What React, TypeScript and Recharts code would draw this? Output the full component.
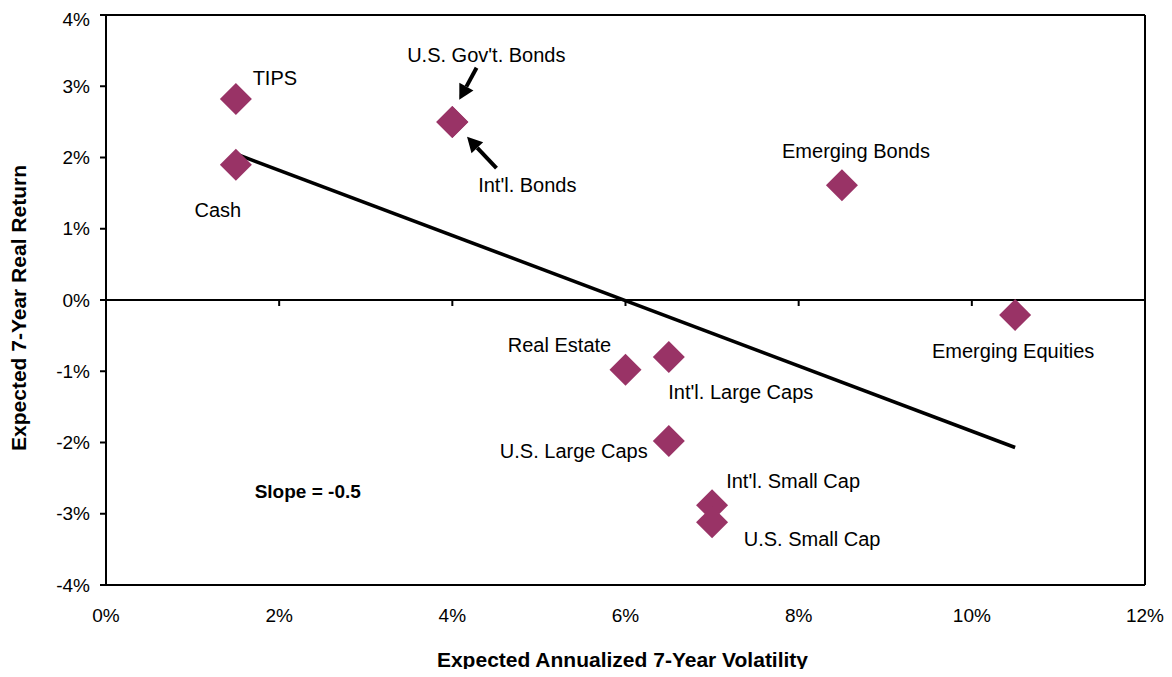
import { ScatterChart, Scatter, XAxis, YAxis, ReferenceLine, ReferenceDot, Label } from 'recharts';

// asset classes, expected volatility (%) and expected real return (%)
const assets = ['TIPS', 'Cash', "U.S. Gov't. Bonds", "Int'l. Bonds", 'Emerging Bonds', 'Emerging Equities', 'Real Estate', "Int'l. Large Caps", 'U.S. Large Caps', "Int'l. Small Cap", 'U.S. Small Cap'];
const volatility = [1.5, 1.5, 4.0, 4.0, 8.5, 10.5, 6.0, 6.5, 6.5, 7.0, 7.0];
const realReturn = [2.82, 1.9, 2.5, 2.5, 1.61, -0.21, -0.98, -0.8, -1.98, -2.88, -3.12];

// fitted line
const trendVol = [1.5, 10.5];
const trendReturn = [2.05, -2.07];

const xTicks = [0, 2, 4, 6, 8, 10, 12];
const yTicks = [-4, -3, -2, -1, 0, 1, 2, 3, 4];

// label offsets from the marker (px)
const labelOffset: Record<string, [number, number]> = {
  'TIPS': [39, -21],
  'Cash': [-18, 45],
  "U.S. Gov't. Bonds": [34, -67],
  "Int'l. Bonds": [75, 63],
  'Emerging Bonds': [14, -34],
  'Emerging Equities': [-2, 36],
  'Real Estate': [-66, -25],
  "Int'l. Large Caps": [72, 35],
  'U.S. Large Caps': [-95, 10],
  "Int'l. Small Cap": [81, -24],
  'U.S. Small Cap': [100, 17],
};

const data = assets.map((name, i) => ({ name, x: volatility[i], y: realReturn[i] }));
const trend = trendVol.map((x, i) => ({ x, y: trendReturn[i] }));

const font = 'Liberation Sans, Arial, sans-serif';

const Diamond = (props: any) => {
  const { cx, cy, payload } = props;
  const s = 16;
  const [dx, dy] = labelOffset[payload.name] || [0, 0];
  return (
    <g>
      <polygon points={`${cx},${cy - s} ${cx + s},${cy} ${cx},${cy + s} ${cx - s},${cy}`} fill="#993366" />
      <text x={cx + dx} y={cy + dy} textAnchor="middle" dominantBaseline="central" fontSize={20} fontFamily={font} fill="#000">
        {payload.name}
      </text>
    </g>
  );
};

const Arrow = (props: any) => {
  const { x1, y1, x2, y2 } = props;
  const ang = Math.atan2(y2 - y1, x2 - x1);
  const len = 15, half = 8;
  const bx = x2 - len * Math.cos(ang), by = y2 - len * Math.sin(ang);
  const px = -Math.sin(ang) * half, py = Math.cos(ang) * half;
  return (
    <g>
      <line x1={x1} y1={y1} x2={bx} y2={by} stroke="#000" strokeWidth={4} />
      <polygon points={`${x2},${y2} ${bx + px},${by + py} ${bx - px},${by - py}`} fill="#000" />
    </g>
  );
};

const TickMark = (props: any) => (
  <line x1={props.cx} y1={props.cy} x2={props.cx} y2={props.cy + 6} stroke="#000" strokeWidth={2} />
);

function App() {
  return (
    <ScatterChart width={1156} height={661} margin={{ top: 7, right: 19, left: 0, bottom: 4 }}>
      <XAxis
        type="number"
        dataKey="x"
        domain={[0, 12]}
        ticks={xTicks}
        tickFormatter={(v: number) => `${v}%`}
        axisLine={{ stroke: '#000', strokeWidth: 2 }}
        tickLine={false}
        tickSize={0}
        tickMargin={24}
        height={80}
        tick={{ fill: '#000', fontSize: 19, fontFamily: font }}
      >
        <Label content={(p: any) => {
          const vb = p.viewBox;
          return (
            <text x={vb.x + vb.width / 2 - 3} y={vb.y + 74} textAnchor="middle" dominantBaseline="central"
              fontSize={21} fontWeight="bold" fontFamily={font} fill="#000">
              Expected Annualized 7-Year Volatility
            </text>
          );
        }} />
      </XAxis>
      <YAxis
        type="number"
        dataKey="y"
        domain={[-4, 4]}
        ticks={yTicks}
        tickFormatter={(v: number) => `${v}%`}
        axisLine={{ stroke: '#000', strokeWidth: 2 }}
        tickLine={{ stroke: '#000', strokeWidth: 2 }}
        tickSize={6}
        tickMargin={10}
        width={98}
        tick={{ fill: '#000', fontSize: 19, fontFamily: font }}
      >
        <Label content={(p: any) => {
          const vb = p.viewBox;
          const x = vb.x + 10, y = vb.y + vb.height / 2 + 8;
          return (
            <text x={x} y={y} transform={`rotate(-90 ${x} ${y})`} textAnchor="middle" dominantBaseline="central"
              fontSize={21} fontWeight="bold" fontFamily={font} fill="#000">
              Expected 7-Year Real Return
            </text>
          );
        }} />
      </YAxis>
      <ReferenceLine y={4} stroke="#000" strokeWidth={2} />
      <ReferenceLine x={12} stroke="#000" strokeWidth={2} />
      <ReferenceLine y={0} stroke="#000" strokeWidth={2} />
      {xTicks.slice(1, -1).map((t) => (
        <ReferenceDot key={t} x={t} y={0} r={0} shape={TickMark} />
      ))}
      <Scatter data={trend} line={{ stroke: '#000', strokeWidth: 3.5 }} shape={() => <g />} isAnimationActive={false} />
      <Scatter data={data} shape={Diamond} isAnimationActive={false} />
      <ReferenceLine segment={[{ x: 4.28, y: 3.26 }, { x: 4.08, y: 2.81 }]} shape={Arrow} />
      <ReferenceLine segment={[{ x: 4.51, y: 1.85 }, { x: 4.17, y: 2.29 }]} shape={Arrow} />
      <ReferenceDot x={2.33} y={-2.69} r={0} shape={(p: any) => (
        <text x={p.cx} y={p.cy} textAnchor="middle" dominantBaseline="central" fontSize={19} fontWeight="bold" fontFamily={font} fill="#000">
          Slope = -0.5
        </text>
      )} />
    </ScatterChart>
  );
}

export default App;
